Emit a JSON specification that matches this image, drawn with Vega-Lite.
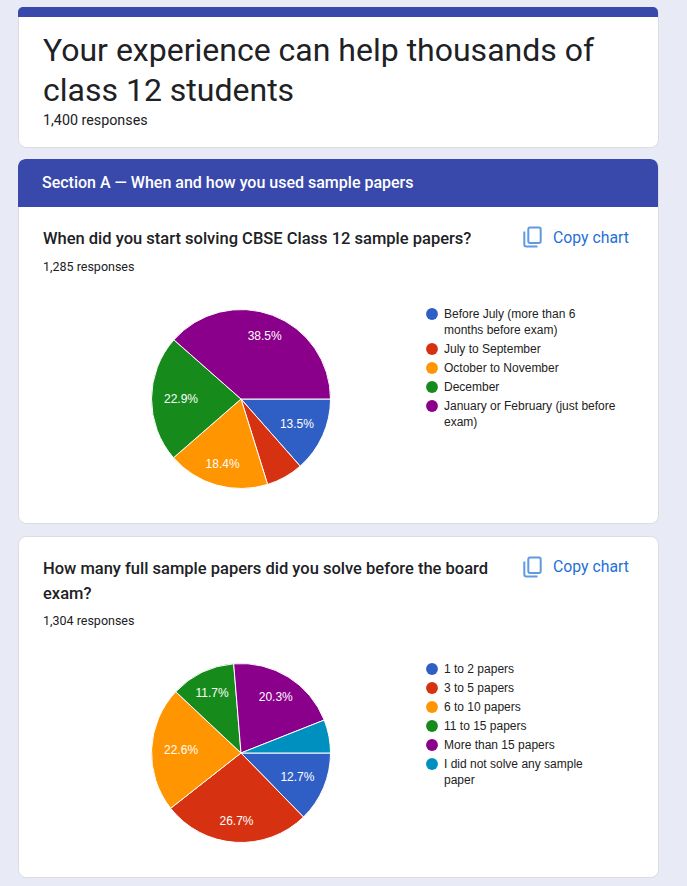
{
  "$schema": "https://vega.github.io/schema/vega-lite/v6.json",
  "background": "#e8eaf6",
  "padding": {"left": 17, "top": 6, "right": 29, "bottom": 8},
  "spacing": 11,
  "resolve": {"scale": {"color": "independent"}, "legend": {"color": "independent"}},
  "vconcat": [
    {
      "spacing": 10,
      "resolve": {"scale": {"color": "independent"}, "legend": {"color": "independent"}},
      "vconcat": [
        {
          "width": 640,
          "height": 140,
          "view": {"fill": "white", "stroke": "#dadce0", "cornerRadius": 8},
          "layer": [
            {
              "data": {"values": [{"part": "top band"}]},
              "mark": {"type": "rect", "color": "#3949ab", "cornerRadiusTopLeft": 8, "cornerRadiusTopRight": 8},
              "encoding": {"x": {"value": 0}, "x2": {"value": 640}, "y": {"value": 0}, "y2": {"value": 10}}
            },
            {
              "data": {"values": [{"line": "Your experience can help thousands of", "n": 1}, {"line": "class 12 students", "n": 2}]},
              "mark": {"type": "text", "font": "Roboto", "fontSize": 32, "color": "#202124", "align": "left", "baseline": "alphabetic", "x": 25, "y": {"expr": "datum.n == 1 ? 54 : 94"}},
              "encoding": {"text": {"field": "line"}}
            },
            {
              "data": {"values": [{"line": "1,400 responses"}]},
              "mark": {"type": "text", "font": "Roboto", "fontSize": 14.3, "color": "#202124", "align": "left", "baseline": "alphabetic", "x": 25, "y": 118},
              "encoding": {"text": {"field": "line"}}
            }
          ]
        },
        {
          "width": 640,
          "height": 364,
          "view": {"fill": "white", "stroke": "#dadce0", "cornerRadius": 8},
          "data": {"values": [
            {"answer": "Before July (more than 6 months before exam)", "share": 0.135, "rank": 1},
            {"answer": "July to September", "share": 0.067, "rank": 2},
            {"answer": "October to November", "share": 0.184, "rank": 3},
            {"answer": "December", "share": 0.229, "rank": 4},
            {"answer": "January or February (just before exam)", "share": 0.385, "rank": 5}
          ]},
          "layer": [
            {
              "data": {"values": [{"part": "section band"}]},
              "mark": {"type": "rect", "color": "#3949ab", "cornerRadiusTopLeft": 8, "cornerRadiusTopRight": 8},
              "encoding": {"x": {"value": 0}, "x2": {"value": 640}, "y": {"value": 0}, "y2": {"value": 48}}
            },
            {
              "data": {"values": [{"line": "Section A — When and how you used sample papers"}]},
              "mark": {"type": "text", "font": "Roboto", "fontSize": 16, "fontWeight": 500, "color": "white", "align": "left", "x": 24, "y": 24},
              "encoding": {"text": {"field": "line"}}
            },
            {
              "data": {"values": [{"line": "When did you start solving CBSE Class 12 sample papers?"}]},
              "mark": {"type": "text", "font": "Roboto", "fontSize": 16.5, "fontWeight": 500, "color": "#202124", "align": "left", "baseline": "alphabetic", "x": 25, "y": 85},
              "encoding": {"text": {"field": "line"}}
            },
            {
              "data": {"values": [{"line": "1,285 responses"}]},
              "mark": {"type": "text", "font": "Roboto", "fontSize": 12.5, "color": "#202124", "align": "left", "baseline": "alphabetic", "x": 25, "y": 112},
              "encoding": {"text": {"field": "line"}}
            },
            {
              "data": {"values": [{"line": "Copy chart"}]},
              "mark": {"type": "text", "font": "Roboto", "fontSize": 15.8, "color": "#1e70d8", "align": "left", "baseline": "alphabetic", "x": 535, "y": 84},
              "encoding": {"text": {"field": "line"}}
            },
            {
              "data": {"values": [{"line": "Copy icon"}]},
              "mark": {"type": "point", "shape": "M-0.25,-0.95H0.65Q0.82,-0.95 0.82,-0.75V0.4Q0.82,0.6 0.65,0.6H-0.25Q-0.42,0.6 -0.42,0.4V-0.75Q-0.42,-0.95 -0.25,-0.95Z M-0.82,-0.55V0.75Q-0.82,0.95 -0.62,0.95H0.5", "size": 400, "filled": false, "stroke": "#1e70d8", "strokeWidth": 2, "x": 514.5, "y": 78},
              "encoding": {}
            },
            {
              "mark": {"type": "arc", "outerRadius": 89.5, "stroke": "white", "strokeWidth": 1},
              "encoding": {
                "x": {"value": 223},
                "y": {"value": 240},
                "theta": {"field": "share", "type": "quantitative", "stack": true, "scale": {"domain": [0, 1], "range": [1.5708, 7.854]}},
                "order": {"field": "rank"},
                "color": {
                  "field": "answer",
                  "type": "nominal",
                  "scale": {
                    "domain": ["Before July (more than 6 months before exam)", "July to September", "October to November", "December", "January or February (just before exam)"],
                    "range": ["#2f5ec4", "#d63211", "#ff9500", "#168b1b", "#8b008b"]
                  },
                  "legend": {
                    "orient": "none",
                    "legendX": 408,
                    "legendY": 149,
                    "title": null,
                    "symbolType": "circle",
                    "symbolSize": 140,
                    "symbolStrokeWidth": 0,
                    "labelFont": "Liberation Sans",
                    "labelFontSize": 12,
                    "labelColor": "#222222",
                    "labelLimit": 300,
                    "labelOffset": 6,
                    "labelBaseline": "alphabetic",
                    "rowPadding": 7,
                    "labelExpr": "datum.label == 'Before July (more than 6 months before exam)' ? ['Before July (more than 6', 'months before exam)'] : datum.label == 'January or February (just before exam)' ? ['January or February (just before', 'exam)'] : datum.label",
                    "encoding": {"labels": {"lineHeight": {"value": 16}, "dy": {"value": 4}}}
                  }
                }
              }
            },
            {
              "mark": {"type": "text", "font": "Liberation Sans", "fontSize": 12, "color": "white", "radius": {"expr": "60 + 8 * pow(cos(PI / 2 + PI * (datum.share_start + datum.share_end)), 2)"}},
              "encoding": {
                "x": {"value": 223},
                "y": {"value": 240},
                "theta": {"field": "share", "type": "quantitative", "stack": true, "scale": {"domain": [0, 1], "range": [1.5708, 7.854]}},
                "order": {"field": "rank"},
                "text": {"field": "share", "type": "quantitative", "format": ".1%"},
                "opacity": {"condition": {"test": "datum.share < 0.07", "value": 0}, "value": 1}
              }
            }
          ]
        }
      ]
    },
    {
      "width": 640,
      "height": 341,
      "view": {"fill": "white", "stroke": "#dadce0", "cornerRadius": 8},
      "data": {"values": [
        {"answer": "1 to 2 papers", "share": 0.127, "rank": 1},
        {"answer": "3 to 5 papers", "share": 0.267, "rank": 2},
        {"answer": "6 to 10 papers", "share": 0.226, "rank": 3},
        {"answer": "11 to 15 papers", "share": 0.117, "rank": 4},
        {"answer": "More than 15 papers", "share": 0.203, "rank": 5},
        {"answer": "I did not solve any sample paper", "share": 0.06, "rank": 6}
      ]},
      "layer": [
        {
          "data": {"values": [{"line": "How many full sample papers did you solve before the board", "n": 1}, {"line": "exam?", "n": 2}]},
          "mark": {"type": "text", "font": "Roboto", "fontSize": 16.5, "fontWeight": 500, "color": "#202124", "align": "left", "baseline": "alphabetic", "x": 25, "y": {"expr": "datum.n == 1 ? 38 : 63"}},
          "encoding": {"text": {"field": "line"}}
        },
        {
          "data": {"values": [{"line": "1,304 responses"}]},
          "mark": {"type": "text", "font": "Roboto", "fontSize": 12.5, "color": "#202124", "align": "left", "baseline": "alphabetic", "x": 25, "y": 89},
          "encoding": {"text": {"field": "line"}}
        },
        {
          "data": {"values": [{"line": "Copy chart"}]},
          "mark": {"type": "text", "font": "Roboto", "fontSize": 15.8, "color": "#1e70d8", "align": "left", "baseline": "alphabetic", "x": 535, "y": 36},
          "encoding": {"text": {"field": "line"}}
        },
        {
          "data": {"values": [{"line": "Copy icon"}]},
          "mark": {"type": "point", "shape": "M-0.25,-0.95H0.65Q0.82,-0.95 0.82,-0.75V0.4Q0.82,0.6 0.65,0.6H-0.25Q-0.42,0.6 -0.42,0.4V-0.75Q-0.42,-0.95 -0.25,-0.95Z M-0.82,-0.55V0.75Q-0.82,0.95 -0.62,0.95H0.5", "size": 400, "filled": false, "stroke": "#1e70d8", "strokeWidth": 2, "x": 514.5, "y": 31},
          "encoding": {}
        },
        {
          "mark": {"type": "arc", "outerRadius": 89.5, "stroke": "white", "strokeWidth": 1},
          "encoding": {
            "x": {"value": 223},
            "y": {"value": 217},
            "theta": {"field": "share", "type": "quantitative", "stack": true, "scale": {"domain": [0, 1], "range": [1.5708, 7.854]}},
            "order": {"field": "rank"},
            "color": {
              "field": "answer",
              "type": "nominal",
              "scale": {
                "domain": ["1 to 2 papers", "3 to 5 papers", "6 to 10 papers", "11 to 15 papers", "More than 15 papers", "I did not solve any sample paper"],
                "range": ["#2f5ec4", "#d63211", "#ff9500", "#168b1b", "#8b008b", "#0090bf"]
              },
              "legend": {
                "orient": "none",
                "legendX": 408,
                "legendY": 127,
                "title": null,
                "symbolType": "circle",
                "symbolSize": 140,
                "symbolStrokeWidth": 0,
                "labelFont": "Liberation Sans",
                "labelFontSize": 12,
                "labelColor": "#222222",
                "labelLimit": 300,
                "labelOffset": 6,
                "labelBaseline": "alphabetic",
                "rowPadding": 7,
                "labelExpr": "datum.label == 'I did not solve any sample paper' ? ['I did not solve any sample', 'paper'] : datum.label",
                "encoding": {"labels": {"lineHeight": {"value": 16}, "dy": {"value": 4}}}
              }
            }
          }
        },
        {
          "mark": {"type": "text", "font": "Liberation Sans", "fontSize": 12, "color": "white", "radius": {"expr": "60 + 8 * pow(cos(PI / 2 + PI * (datum.share_start + datum.share_end)), 2)"}},
          "encoding": {
            "x": {"value": 223},
            "y": {"value": 217},
            "theta": {"field": "share", "type": "quantitative", "stack": true, "scale": {"domain": [0, 1], "range": [1.5708, 7.854]}},
            "order": {"field": "rank"},
            "text": {"field": "share", "type": "quantitative", "format": ".1%"},
            "opacity": {"condition": {"test": "datum.share < 0.07", "value": 0}, "value": 1}
          }
        }
      ]
    }
  ]
}
